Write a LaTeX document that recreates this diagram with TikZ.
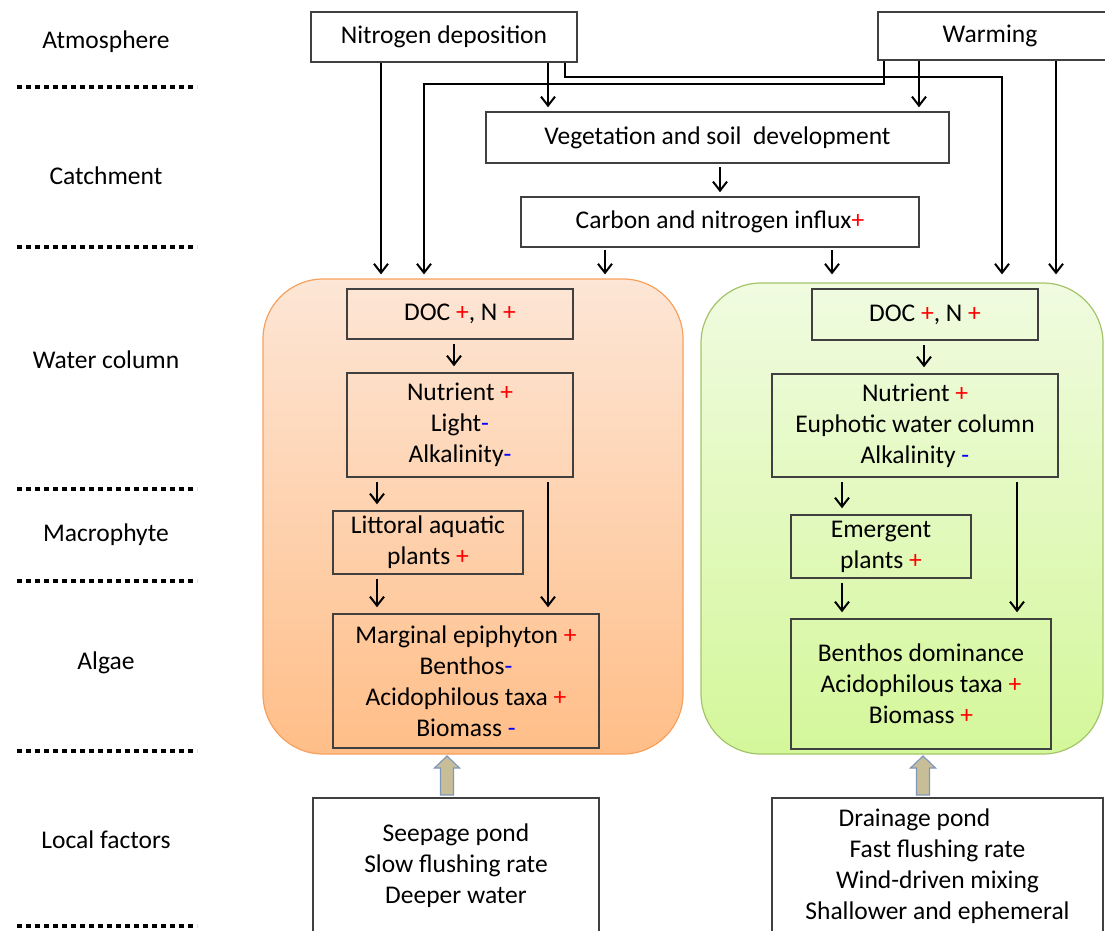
\documentclass[tikz,border=0pt]{standalone}
\usepackage{fontspec}
\setmainfont{Carlito}
\usepackage{xcolor}
\usetikzlibrary{arrows.meta}

\definecolor{boxline}{HTML}{404040}
\definecolor{orgtop}{HTML}{FDE6D6}
\definecolor{orgbot}{HTML}{FFBE88}
\definecolor{orgline}{HTML}{F7A15E}
\definecolor{grntop}{HTML}{F0FBE0}
\definecolor{grnbot}{HTML}{D4F79A}
\definecolor{grnline}{HTML}{A3C46A}
\definecolor{blkfill}{HTML}{C7BE98}
\definecolor{blkline}{HTML}{7F98BA}

\newcommand{\incr}{\textcolor{red}{+}}
\newcommand{\decr}{\textcolor{blue}{-}}

\begin{document}
\begin{tikzpicture}[x=1pt, y=-1pt,
	box/.style={draw=boxline, line width=1.5pt, inner sep=0pt, align=center,
		font=\fontsize{25.5}{31}\selectfont},
	pond/.style={draw, rounded corners=60pt, line width=1.2pt},
	arr/.style={line width=2pt, -{Straight Barb[length=9pt,width=14pt]}, shorten >=4pt},
	sep/.style={line width=4pt, dash pattern=on 5pt off 4pt},
	lvl/.style={font=\fontsize{25.5}{31}\selectfont},
	blk/.style={fill=blkfill, draw=blkline, line width=1.2pt}]
		\useasboundingbox (0,0) rectangle (1105,930);
		\clip (0,0) rectangle (1105,930);

		% levels on the left
		\foreach \y in {87, 247, 489, 581, 751, 926} {
			\draw[sep] (17,\y) -- (197,\y);
		}
		\foreach \y/\name/\txt in {42/atm/Atmosphere, 176/cat/Catchment, 360/wat/Water column,
				535/mac/Macrophyte, 663/alg/Algae, 840/loc/Local factors} {
			\node[lvl] (\name) at (106,\y) {\txt};
		}

		% ponds
		\node[pond, draw=orgline, top color=orgtop, bottom color=orgbot,
			minimum width=420, minimum height=475] (lft) at (473,516.5) {};
		\node[pond, draw=grnline, top color=grntop, bottom color=grnbot,
			minimum width=402, minimum height=471] (rgt) at (902,518.5) {};

		% drivers
		\node[box, fill=white, minimum width=266, minimum height=50] (nd) at (444,37) {Nitrogen deposition};
		\node[box, fill=white, minimum width=232, minimum height=48] (wm) at (994,36) {Warming\hspace*{8pt}};
		\node[box, fill=white, minimum width=463, minimum height=51] (veg) at (717.5,137.5) {Vegetation and soil\ \ development};
		\node[box, fill=white, minimum width=398, minimum height=50] (cni) at (720,222) {Carbon and nitrogen influx\incr};

		% seepage pond
		\node[box, minimum width=226, minimum height=50] (ldoc) at (460,314) {DOC \incr, N \incr};
		\node[box, minimum width=226, minimum height=104] (lnut) at (460,425) {Nutrient \incr\\Light\decr\\Alkalinity\decr};
		\node[box, minimum width=190, minimum height=63] (llit) at (428,542.5) {Littoral aquatic\\plants \incr};
		\node[box, minimum width=266, minimum height=134] (lalg) at (466,681) {Marginal epiphyton \incr\\Benthos\decr\\Acidophilous taxa \incr\\Biomass \decr};
		\node[box, fill=white, minimum width=286, minimum height=136] (lloc) at (456,866) {Seepage pond\\Slow flushing rate\\Deeper water};

		% drainage pond
		\node[box, minimum width=226, minimum height=51] (rdoc) at (925,314.5) {DOC \incr, N \incr};
		\node[box, minimum width=286, minimum height=103] (rnut) at (915,425.5) {Nutrient \incr\\Euphotic water column\\Alkalinity \decr};
		\node[box, minimum width=180, minimum height=63] (remg) at (881,546.5) {Emergent\\plants \incr};
		\node[box, minimum width=260, minimum height=130] (ralg) at (921,684) {Benthos dominance\\Acidophilous taxa \incr\\Biomass \incr};
		\node[box, fill=white, minimum width=331, minimum height=136] (rloc) at (937.5,866) {Drainage pond\hspace*{46pt}\\Fast flushing rate\\Wind-driven mixing\\Shallower and ephemeral};

		\coordinate (ndA) at ([xshift=-63pt]nd.south);
		\coordinate (ndB) at ([xshift=104pt]nd.south);
		\coordinate (ndC) at ([xshift=121pt]nd.south);
		\coordinate (wmA) at ([xshift=-110pt]wm.south);
		\coordinate (wmB) at ([xshift=-75pt]wm.south);
		\coordinate (wmC) at ([xshift=62pt]wm.south);
		\coordinate (bendC) at (1002,77);
		\coordinate (bendA) at (424,84);
		\coordinate (cniA) at ([xshift=-115pt]cni.south);
		\coordinate (cniB) at ([xshift=112pt]cni.south);

		\draw[arr] (ndA) -- (ndA |- lft.north);
		\draw[arr] (ndB) -- (ndB |- veg.north);
		\draw[arr] (ndC) |- (bendC) -- (bendC |- lft.north);
		\draw[arr] (wmA) |- (bendA) -- (bendA |- lft.north);
		\draw[arr] (wmB) -- (wmB |- veg.north);
		\draw[arr] (wmC) -- (wmC |- lft.north);
		\draw[arr, shorten <=3pt] ([xshift=2.5pt]veg.south) -- ([xshift=2.5pt]veg.south |- cni.north);
		\draw[arr, shorten <=2pt] (cniA) -- (cniA |- lft.north);
		\draw[arr, shorten <=2pt] (cniB) -- (cniB |- lft.north);

		\coordinate (ldocA) at ([xshift=-6pt]ldoc.south);
		\coordinate (lnutA) at ([xshift=-83pt]lnut.south);
		\coordinate (lnutB) at ([xshift=88pt]lnut.south);
		\coordinate (llitA) at ([xshift=-51pt]llit.south);
		\coordinate (rdocA) at ([xshift=-1pt]rdoc.south);
		\coordinate (rnutA) at ([xshift=-73pt]rnut.south);
		\coordinate (rnutB) at ([xshift=102pt]rnut.south);
		\coordinate (remgA) at ([xshift=-39pt]remg.south);

		\foreach \s/\t in {ldocA/lnut, lnutA/llit, lnutB/lalg, llitA/lalg,
				rdocA/rnut, rnutA/remg, rnutB/ralg, remgA/ralg} {
			\draw[arr, shorten <=4pt, shorten >=6pt] (\s) -- (\s |- \t.north);
		}

		\foreach \x in {447, 923} {
			\draw[blk] (\x-6.5,795) -- (\x-6.5,768) -- (\x-12.5,768) -- (\x,756)
				-- (\x+12.5,768) -- (\x+6.5,768) -- (\x+6.5,795) -- cycle;
		}
	\end{tikzpicture}
\end{document}
